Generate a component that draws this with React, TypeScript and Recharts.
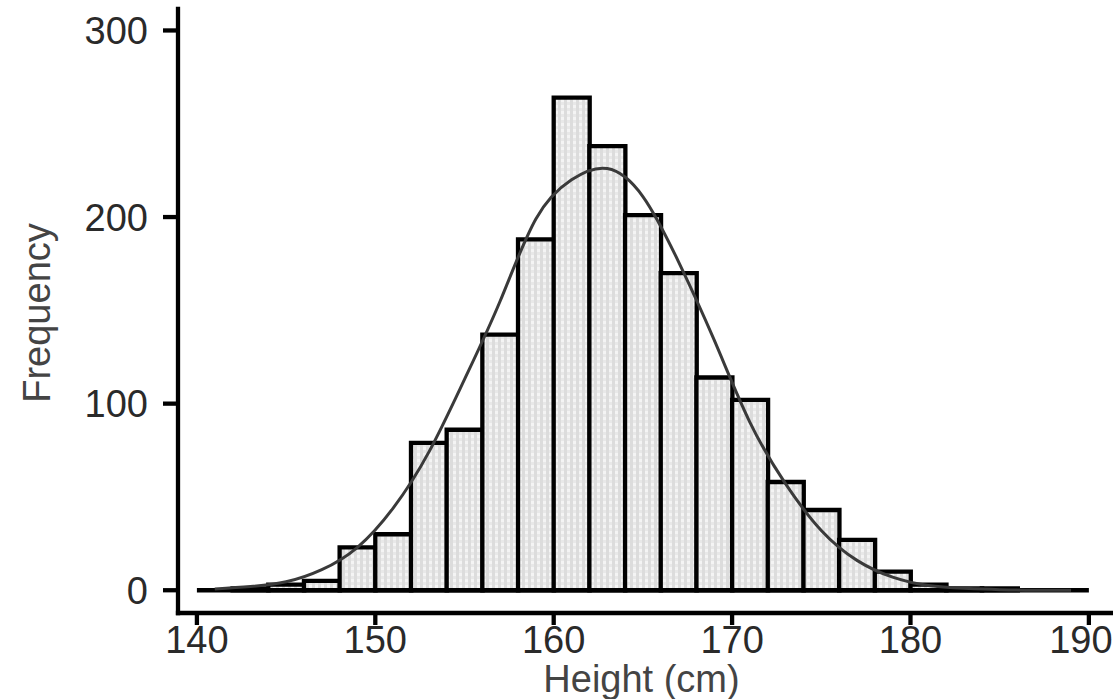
import { Bar, ComposedChart, Line, ReferenceLine, XAxis, YAxis } from "recharts"

// bin centres (cm), bins are 2 cm wide
const heights = [141, 143, 145, 147, 149, 151, 153, 155, 157, 159, 161, 163, 165, 167, 169, 171, 173, 175, 177, 179, 181, 183, 185, 187, 189]
// histogram counts per bin (null = no bar)
const counts = [null, 1, 3, 5, 23, 30, 79, 86, 137, 188, 264, 238, 201, 170, 114, 102, 58, 43, 27, 10, 3, 1, 1, null, null]
// fitted normal curve at the same centres
const curve = [0.7, 2, 4.5, 11, 23, 44, 74, 113, 155, 199, 220, 226, 211, 176, 134, 90, 57, 32, 16, 7, 2.5, 1, 0.3, 0, 0]

const xTicks = [140, 150, 160, 170, 180, 190]
const yTicks = [0, 100, 200, 300]

const data = heights.map((h, i) => ({ height: h, count: counts[i], curve: curve[i] }))

const FONT = "'Liberation Sans', Arial, Helvetica, sans-serif"

// last label is nudged left so it stays inside the picture, like the original
const XTick = (props: any) => {
  const { x, y, payload, index } = props
  const shift = index === xTicks.length - 1 ? -8 : 0
  return (
    <text x={x + shift} y={y} dy="0.71em" textAnchor="middle" fontSize={38} fontFamily={FONT} fill="#2a2a2a">
      {payload.value}
    </text>
  )
}

const XTitle = (props: any) => {
  const { x, y, width } = props.viewBox
  return (
    <text x={x + width / 2 - 3} y={y + 79} textAnchor="middle" fontSize={38} fontFamily={FONT} fill="#444">
      Height (cm)
    </text>
  )
}

const YTitle = (props: any) => {
  const { x, y, height } = props.viewBox
  const cx = x + 50
  const cy = y + height / 2 + 2
  return (
    <text x={cx} y={cy} transform={`rotate(-90 ${cx} ${cy})`} textAnchor="middle" fontSize={38} fontFamily={FONT} fill="#444">
      Frequency
    </text>
  )
}

export default function App() {
  return (
    <div style={{ position: "absolute", left: 0, top: 0, background: "#fff" }}>
      <ComposedChart
        width={1113}
        height={699}
        data={data}
        margin={{ top: 9, right: 2, bottom: 0, left: 0 }}
        barCategoryGap={0}
        barGap={0}
      >
        <defs>
          <pattern id="stipple" width="6" height="6" patternUnits="userSpaceOnUse">
            <rect width="6" height="6" fill="#f4f4f4" />
            <rect x="0" y="0" width="3" height="6" fill="#dcdcdc" />
            <rect x="3" y="0" width="3" height="3" fill="#e8e8e8" />
          </pattern>
        </defs>
        <XAxis
          type="number"
          dataKey="height"
          domain={[138.94, 191.24]}
          allowDataOverflow
          ticks={xTicks}
          interval={0}
          height={86}
          tickSize={12}
          tickMargin={1}
          axisLine={{ stroke: "#000", strokeWidth: 4.3, strokeLinecap: "square" }}
          tickLine={{ stroke: "#000", strokeWidth: 4.3 }}
          tick={<XTick />}
          label={{ content: XTitle }}
        />
        <YAxis
          type="number"
          domain={[-12.2, 311.5]}
          allowDataOverflow
          ticks={yTicks}
          interval={0}
          width={178}
          tickSize={15}
          tickMargin={15}
          axisLine={{ stroke: "#000", strokeWidth: 4.3, strokeLinecap: "square" }}
          tickLine={{ stroke: "#000", strokeWidth: 4.3 }}
          tick={{ fill: "#2a2a2a", fontSize: 38, fontFamily: FONT }}
          label={{ content: YTitle }}
        />
        <Bar dataKey="count" fill="url(#stipple)" stroke="#000" strokeWidth={4.3} isAnimationActive={false} />
        <ReferenceLine
          segment={[{ x: 140, y: 0 }, { x: 190, y: 0 }]}
          stroke="#000"
          strokeWidth={4.5}
        />
        <Line
          dataKey="curve"
          type="natural"
          stroke="#3a3a3a"
          strokeWidth={3}
          dot={false}
          activeDot={false}
          isAnimationActive={false}
        />
      </ComposedChart>
    </div>
  )
}
